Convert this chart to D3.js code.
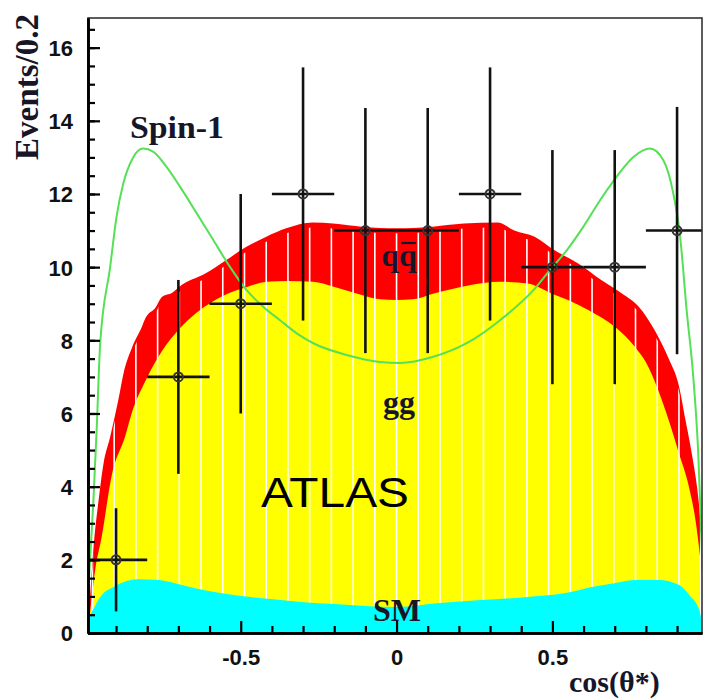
<!DOCTYPE html>
<html><head><meta charset="utf-8">
<script src="https://cdn.jsdelivr.net/npm/d3@7"></script>
<style>body{margin:0;background:#fff}svg{display:block}</style>
</head><body>
<svg id="chart" width="704" height="699"></svg>
<script>
// ---- data ----
// SM (cyan) stack top
const smX = [-0.99,-0.986,-0.969,-0.94,-0.908,-0.866,-0.834,-0.763,-0.714,-0.65,-0.566,-0.5,-0.404,-0.307,-0.198,-0.101,0,0.138,0.271,0.413,0.542,0.626,0.703,0.768,0.842,0.907,0.939,0.971,0.98];
const smY = [0.05,0.36,0.71,1.09,1.26,1.42,1.47,1.45,1.37,1.23,1.09,1.01,0.93,0.85,0.79,0.74,0.71,0.82,0.9,0.98,1.09,1.26,1.37,1.45,1.45,1.31,1.04,0.63,0.3];
// SM + gg (yellow) stack top
const ggX = [-0.99,-0.984,-0.967,-0.946,-0.914,-0.87,-0.85,-0.805,-0.753,-0.698,-0.643,-0.592,-0.535,-0.482,-0.417,-0.35,-0.268,-0.204,-0.128,-0.052,0,0.052,0.12,0.23,0.33,0.42,0.497,0.55,0.615,0.7,0.765,0.8,0.841,0.873,0.906,0.938,0.959,0.975,0.98];
const ggY = [0.1,0.5,1.72,2.63,4.3,5.4,6.0,6.9,7.7,8.3,8.75,9.05,9.3,9.45,9.6,9.62,9.6,9.47,9.28,9.12,9.1,9.12,9.28,9.5,9.6,9.55,9.28,9.1,8.83,8.37,7.82,7.4,6.6,5.82,4.91,4.0,3.09,2.0,1.6];
// SM + gg + qqbar (red) stack top
const qqX = [-0.99,-0.984,-0.973,-0.956,-0.94,-0.919,-0.892,-0.876,-0.849,-0.817,-0.806,-0.773,-0.752,-0.72,-0.698,-0.612,-0.547,-0.483,-0.418,-0.354,-0.269,-0.204,-0.107,0,0.109,0.216,0.325,0.378,0.443,0.507,0.583,0.658,0.723,0.777,0.83,0.873,0.906,0.927,0.949,0.97,0.98];
const qqY = [0.3,0.9,2.27,3.63,4.64,5.36,6.4,7.1,7.8,8.37,8.6,8.9,9.19,9.3,9.46,9.83,10.19,10.55,10.83,11.06,11.22,11.19,11.1,11.06,11.1,11.19,11.22,11.0,10.83,10.46,10.1,9.64,9.28,8.92,8.25,7.5,6.75,5.82,4.82,3.54,2.5];
// Spin-1 hypothesis curve
const spinX = [-0.99,-0.973,-0.962,-0.951,-0.919,-0.898,-0.877,-0.845,-0.813,-0.78,-0.738,-0.695,-0.641,-0.588,-0.534,-0.481,-0.428,-0.374,-0.32,-0.267,-0.16,-0.053,0.011,0.118,0.225,0.332,0.439,0.492,0.546,0.599,0.653,0.706,0.76,0.813,0.856,0.888,0.909,0.931,0.952,0.968,0.98];
const spinY = [1.0,3.55,5.6,7.9,10.0,11.4,12.28,13.0,13.24,13.15,12.74,12.2,11.47,10.74,10.0,9.37,8.92,8.55,8.19,7.92,7.6,7.41,7.38,7.55,7.92,8.55,9.37,9.92,10.46,11.1,11.83,12.47,13.01,13.24,12.92,12.01,10.9,8.8,7.0,4.91,2.2];
// data points
const binCenters = [-0.9,-0.7,-0.5,-0.3,-0.1,0.1,0.3,0.5,0.7,0.9];
const counts = [2,7,9,12,11,11,12,10,10,11];
const errors = [1.41,2.65,3.0,3.46,3.35,3.35,3.46,3.2,3.2,3.38];
const binHalfWidth = 0.1;
// axes
const yMajorTicks = [0,2,4,6,8,10,12,14,16];
const yMinorTicks = d3.range(0, 16.6, 0.5);
const xMajorTicks = [-0.5,0,0.5];
const xMinorTicks = [-0.9,-0.8,-0.7,-0.6,-0.4,-0.3,-0.2,-0.1,0.1,0.2,0.3,0.4,0.6,0.7,0.8,0.9];
const yTitle = "Events/0.2";
const xTitle = "cos(θ*)";

// ---- layout ----
const L = 88, R = 702, T = 18, B = 633;
const svg = d3.select("#chart");
const x = d3.scaleLinear().domain([-0.99, 0.98]).range([L, R]);
const y = d3.scaleLinear().domain([0, 16.81]).range([B, T]);

const defs = svg.append("defs");
defs.append("clipPath").attr("id","plot").append("rect")
  .attr("x", L).attr("y", T).attr("width", R-L).attr("height", B-T);

const zip = (xs, ys) => xs.map((v,i)=>[v, ys[i]]);
const area = d3.area().x(d=>x(d[0])).y0(y(0)).y1(d=>y(d[1])).curve(d3.curveMonotoneX);
const line = d3.line().x(d=>x(d[0])).y(d=>y(d[1])).curve(d3.curveMonotoneX);

const g = svg.append("g").attr("clip-path","url(#plot)");
g.append("path").datum(zip(qqX,qqY)).attr("d", area).attr("fill","#ff0000");
g.append("path").datum(zip(ggX,ggY)).attr("d", area).attr("fill","#ffff00");

// white bin-boundary stripes, clipped to the stacked region (slightly below its top)
defs.append("clipPath").attr("id","stripeclip").append("path")
  .datum(zip(qqX,qqY)).attr("d", area).attr("transform","translate(0,5)");
const stripeStep = 0.0697;
const stripes = d3.range(-14, 15).map(k => k*stripeStep);
g.append("g").attr("clip-path","url(#stripeclip)")
  .selectAll("line").data(stripes).join("line")
  .attr("x1", d=>x(d)).attr("x2", d=>x(d))
  .attr("y1", T).attr("y2", B)
  .attr("stroke","#ffffff").attr("stroke-width",1.6);

g.append("path").datum(zip(smX,smY)).attr("d", area).attr("fill","#00ffff");

g.append("path").datum(zip(spinX,spinY)).attr("d", line)
  .attr("fill","none").attr("stroke","#55e055").attr("stroke-width",2);

// ---- labels ----
const serif = "'Liberation Serif','Times New Roman',serif";
const labCol = "#161628";
svg.append("text").attr("x",130).attr("y",138).attr("font-family",serif).attr("font-weight","bold")
  .attr("font-size",32).attr("fill",labCol).attr("textLength",94).attr("lengthAdjust","spacingAndGlyphs").text("Spin-1");
const qq = svg.append("text").attr("x",399).attr("y",266).attr("text-anchor","middle")
  .attr("font-family",serif).attr("font-weight","bold").attr("font-size",32).attr("fill",labCol).text("qq");
const ext = qq.node().getExtentOfChar(1);
svg.append("line").attr("x1",ext.x+2).attr("x2",ext.x+ext.width-1)
  .attr("y1",266-23).attr("y2",266-23).attr("stroke",labCol).attr("stroke-width",2.2);
svg.append("text").attr("x",399).attr("y",413).attr("text-anchor","middle")
  .attr("font-family",serif).attr("font-weight","bold").attr("font-size",32).attr("fill",labCol).text("gg");
svg.append("text").attr("x",397).attr("y",621).attr("text-anchor","middle")
  .attr("font-family",serif).attr("font-weight","bold").attr("font-size",32).attr("fill",labCol).text("SM");
svg.append("text").attr("x",261).attr("y",507)
  .attr("font-family","'Liberation Sans',Arial,sans-serif").attr("font-size",43).attr("fill","#000")
  .attr("textLength",148).attr("lengthAdjust","spacingAndGlyphs").text("ATLAS");

// ---- data points with error bars ----
const pts = binCenters.map((c,i)=>({c, v:counts[i], e:errors[i]}));
const eg = svg.append("g").attr("stroke","#111").attr("stroke-width",2.6);
eg.selectAll(".v").data(pts).join("line").attr("class","v")
  .attr("x1",d=>x(d.c)).attr("x2",d=>x(d.c)).attr("y1",d=>y(d.v-d.e)).attr("y2",d=>y(d.v+d.e));
eg.selectAll(".h").data(pts).join("line").attr("class","h")
  .attr("x1",d=>Math.max(L, x(d.c-binHalfWidth))).attr("x2",d=>Math.min(R, x(d.c+binHalfWidth)))
  .attr("y1",d=>y(d.v)).attr("y2",d=>y(d.v));
svg.append("g").selectAll("circle").data(pts).join("circle")
  .attr("cx",d=>x(d.c)).attr("cy",d=>y(d.v)).attr("r",4.5)
  .attr("fill","none").attr("stroke","#333").attr("stroke-width",2);

// ---- frame & axes ----
svg.append("rect").attr("x",L).attr("y",T).attr("width",R-L).attr("height",B-T)
  .attr("fill","none").attr("stroke","#333").attr("stroke-width",1.6);

const sans = "'Liberation Sans',Arial,sans-serif";
const yMinorAxis = svg.append("g").attr("transform",`translate(${L},0)`)
  .call(d3.axisLeft(y).tickValues(yMinorTicks).tickSize(-7).tickSizeOuter(0).tickFormat(""));
const yAxis = svg.append("g").attr("transform",`translate(${L},0)`)
  .call(d3.axisLeft(y).tickValues(yMajorTicks).tickSize(-12).tickSizeOuter(0).tickPadding(15).tickFormat(d3.format("d")));
const xMinorAxis = svg.append("g").attr("transform",`translate(0,${B})`)
  .call(d3.axisBottom(x).tickValues(xMinorTicks).tickSize(-7).tickSizeOuter(0).tickFormat(""));
const xAxis = svg.append("g").attr("transform",`translate(0,${B})`)
  .call(d3.axisBottom(x).tickValues(xMajorTicks).tickSize(-12).tickSizeOuter(0).tickPadding(16)
    .tickFormat(d => d === 0 ? "0" : String(d)));
[yMinorAxis,yAxis,xMinorAxis,xAxis].forEach(a=>{
  a.selectAll("line").attr("stroke","#000").attr("stroke-width",2.2);
  a.select(".domain").attr("stroke","#000").attr("stroke-width",2.6);
  a.selectAll("text").attr("font-family",sans).attr("font-weight","bold").attr("font-size",22).attr("fill","#111");
});
yAxis.selectAll("text").attr("dy","0.36em");

svg.append("text").attr("transform","translate(38,14) rotate(-90)").attr("text-anchor","end")
  .attr("font-family",serif).attr("font-weight","bold").attr("font-size",33).attr("fill",labCol)
  .attr("textLength",146).attr("lengthAdjust","spacingAndGlyphs").text(yTitle);
svg.append("text").attr("x",569).attr("y",692)
  .attr("font-family",serif).attr("font-weight","bold").attr("font-size",30).attr("fill",labCol).text(xTitle);
</script>
</body></html>
